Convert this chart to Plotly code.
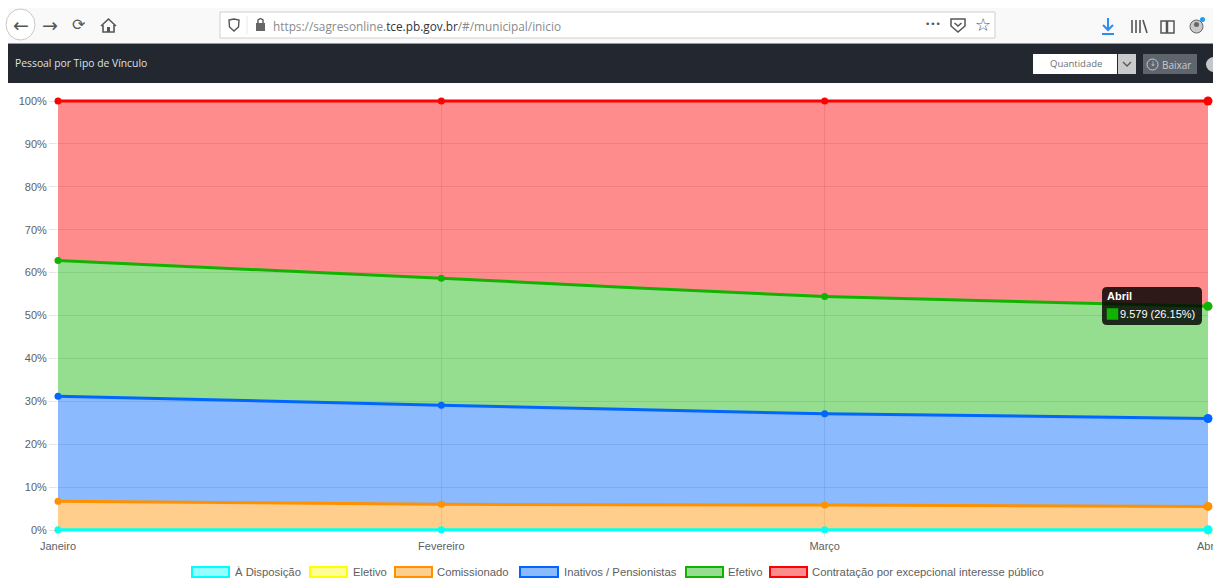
import plotly.graph_objects as go

months = ["Janeiro", "Fevereiro", "Março", "Abril"]
# share of each bond type, in percent
eletivo = [0.0, 0.0, 0.0, 0.0]
a_disposicao = [0.05, 0.05, 0.05, 0.05]
comissionado = [6.65, 5.95, 5.75, 5.45]
inativos = [24.5, 23.1, 21.3, 20.5]
efetivo = [31.6, 29.6, 27.3, 26.15]
contratacao = [37.2, 41.3, 45.6, 47.85]
y_ticks = list(range(0, 101, 10))
y_tick_labels = [f"{v}%" for v in y_ticks]
marker_sizes = [7, 7, 7, 9]

L, R, T, B = 58, 1208, 98, 533
W, H = 1213, 578
FONT = "Liberation Sans, Arial, sans-serif"
INK = "#606060"


def px(x):
    return (x - L) / (R - L)


def py(y):
    return (B - y) / (B - T)


shapes, annotations = [], []


def rect(x0, y0, x1, y1, fill, line=None, lw=1, layer="above"):
    shapes.append(dict(type="rect", xref="paper", yref="paper", layer=layer,
                       x0=px(x0), x1=px(x1), y0=py(y0), y1=py(y1), fillcolor=fill,
                       line=dict(color=line or fill, width=lw if line else 0)))


def seg(x0, y0, x1, y1, color, lw=1.5):
    shapes.append(dict(type="line", xref="paper", yref="paper", x0=px(x0), x1=px(x1),
                       y0=py(y0), y1=py(y1), line=dict(color=color, width=lw)))


def circle(x0, y0, x1, y1, fill, line=None, lw=1):
    shapes.append(dict(type="circle", xref="paper", yref="paper", x0=px(x0), x1=px(x1),
                       y0=py(y0), y1=py(y1), fillcolor=fill,
                       line=dict(color=line or fill, width=lw if line else 0)))


def poly(points, fill="rgba(0,0,0,0)", line="#555555", lw=1.4, close=True):
    path = "M " + " L ".join(f"{px(a):.5f},{py(b):.5f}" for a, b in points) + (" Z" if close else "")
    shapes.append(dict(type="path", xref="paper", yref="paper", path=path, fillcolor=fill,
                       line=dict(color=line, width=lw)))


def label(x, y, text, size=11, color=INK, anchor="left", family=FONT):
    annotations.append(dict(xref="paper", yref="paper", x=px(x), y=py(y), text=text,
                            xanchor=anchor, yanchor="middle", showarrow=False,
                            borderpad=0, borderwidth=0, font=dict(size=size, color=color, family=family)))


# browser toolbar
rect(8, 8, 1213, 43, "#f9f9fa")
seg(8, 43.5, 1213, 43.5, "#9a9a9a", 1)
circle(6, 9, 35, 40, "#ffffff", "#c8c8c8", 1)
label(21, 25, "←", 19, "#555555", "center", "DejaVu Sans")
label(50, 25, "→", 19, "#555555", "center", "DejaVu Sans")
label(79, 25, "⟳", 16, "#555555", "center", "DejaVu Sans")
poly([(101, 26), (108.5, 19), (116, 26)], lw=1.6, close=False)
poly([(103, 25), (103, 32), (114, 32), (114, 25)], lw=1.6, close=False)
rect(107, 27, 110, 32, "#555555")
rect(220, 12, 995, 38, "#ffffff", "#d0d0d0", 1)
poly([(229, 20), (234, 19), (239, 20), (238.5, 27), (234, 31), (229.5, 27)], lw=1.4)
seg(247, 16, 247, 34, "#e8e8e8", 1)
rect(256, 23, 265, 31, "#666666")
poly([(258, 23), (258, 20), (260.5, 18.5), (263, 20), (263, 23)], lw=1.4, close=False)
label(273, 26, '<span style="color:#8a8a8a">https://sagresonline.</span>'
      '<span style="color:#30343c">tce.pb.gov.br</span>'
      '<span style="color:#8a8a8a">/#/municipal/inicio</span>', 11.8, "#8a8a8a", family="Open Sans, sans-serif")
label(933, 24, "•••", 9, "#555555", "center", "DejaVu Sans")
poly([(951, 19), (965, 19), (965, 26), (958, 32), (951, 26)], lw=1.5)
poly([(954.5, 23), (958, 26), (961.5, 23)], lw=1.5, close=False)
label(983, 25, "☆", 18, "#555555", "center", "DejaVu Sans")
seg(1108, 18, 1108, 30, "#2f8cf0", 2)
poly([(1103, 25), (1108, 30), (1113, 25)], line="#2f8cf0", lw=2, close=False)
seg(1102, 34, 1114, 34, "#2f8cf0", 2)
seg(1132, 20, 1132, 33, "#555555", 1.6)
seg(1136, 20, 1136, 33, "#555555", 1.6)
seg(1140, 20, 1140, 33, "#555555", 1.6)
seg(1143, 20, 1147, 33, "#555555", 1.6)
rect(1161, 21, 1174, 33, "rgba(0,0,0,0)", "#555555", 1.5)
seg(1167, 21, 1167, 33, "#555555", 2.5)
circle(1190, 20, 1203, 33, "#c9c9c9", "#666666", 1)
circle(1194, 22, 1199, 27, "#666666")
circle(1200, 17, 1205, 22, "#1e9df0")

# dark page header
rect(8, 44, 1213, 83, "#23272f")
label(15, 62.5, "Pessoal por Tipo de Vínculo", 10.35, "#dfe1e4", family="Open Sans, sans-serif")
rect(1033, 54, 1117, 74, "#ffffff")
label(1076, 64, "Quantidade", 9.5, "#6c7075", "center", "Open Sans, sans-serif")
rect(1118, 54, 1136, 74, "#c8cacc")
poly([(1123, 62), (1127, 66), (1131, 62)], line="#555555", lw=1.3, close=False)
rect(1143, 54, 1197, 74, "#5f656d")
circle(1147, 59, 1158, 70, "rgba(0,0,0,0)", "#c8cbcf", 1)
label(1152.5, 64, "↓", 7, "#c8cbcf", "center", "DejaVu Sans")
label(1161.5, 64.5, "Baixar", 10, "#c8cbcf", family="Open Sans, sans-serif")
circle(1206, 57, 1222, 72, "#c4c6c9")

# tooltip on the Efetivo series
tx0, ty0, tx1, ty1, r = 1102, 287, 1202, 325, 5
path = (f"M {px(tx0 + r)},{py(ty0)} L {px(tx1 - r)},{py(ty0)} Q {px(tx1)},{py(ty0)} {px(tx1)},{py(ty0 + r)} "
        f"L {px(tx1)},{py(ty1 - r)} Q {px(tx1)},{py(ty1)} {px(tx1 - r)},{py(ty1)} "
        f"L {px(tx0 + r)},{py(ty1)} Q {px(tx0)},{py(ty1)} {px(tx0)},{py(ty1 - r)} "
        f"L {px(tx0)},{py(ty0 + r)} Q {px(tx0)},{py(ty0)} {px(tx0 + r)},{py(ty0)} Z")
shapes.append(dict(type="path", xref="paper", yref="paper", path=path,
                   fillcolor="rgba(0,0,0,0.82)", line=dict(width=0)))
label(1107, 296, "<b>Abril</b>", 11, "#ffffff")
rect(1107.5, 309, 1117.5, 319, "#11b300", "#11b300", 1.5)
label(1119.5, 313.5, "9.579 (26.15%)", 11, "#ffffff")

# legend
legend_items = [
    ("À Disposição", 192, 229, 235, "#00ffff", "rgba(0,255,255,0.42)"),
    ("Eletivo", 310, 347, 353, "#ffff00", "rgba(255,255,0,0.42)"),
    ("Comissionado", 395, 432, 437, "#ff9000", "rgba(255,144,0,0.45)"),
    ("Inativos / Pensionistas", 520, 558, 564, "#0066ff", "rgba(0,102,255,0.45)"),
    ("Efetivo", 686, 723, 728, "#11b300", "rgba(17,179,0,0.44)"),
    ("Contratação por excepcional interesse público", 770, 807, 812, "#ff0000", "rgba(255,0,0,0.45)"),
]
for name, b0, b1, t, edge, fill in legend_items:
    rect(b0, 567, b1, 577, fill, edge, 2)
    label(t, 571.5, name, 11.3)

series = [
    ("Eletivo", eletivo, "#ffff00", "rgba(255,255,0,0.42)"),
    ("À Disposição", a_disposicao, "#00ffff", "rgba(0,255,255,0.42)"),
    ("Comissionado", comissionado, "#ff9000", "rgba(255,144,0,0.45)"),
    ("Inativos / Pensionistas", inativos, "#0066ff", "rgba(0,102,255,0.45)"),
    ("Efetivo", efetivo, "#11b300", "rgba(17,179,0,0.44)"),
    ("Contratação por excepcional interesse público", contratacao, "#ff0000", "rgba(255,0,0,0.45)"),
]

fig = go.Figure()
for name, values, edge, fill in series:
    fig.add_trace(go.Scatter(
        x=months, y=values, name=name, mode="none", stackgroup="fills",
        line=dict(shape="spline", smoothing=0.5), fillcolor=fill, showlegend=False,
    ))
for name, values, edge, fill in series:
    fig.add_trace(go.Scatter(
        x=months, y=values, name=name, mode="lines+markers", stackgroup="edges",
        line=dict(color=edge, width=3, shape="spline", smoothing=0.5),
        marker=dict(color=edge, size=marker_sizes, opacity=1, line=dict(width=0)),
        fillcolor="rgba(0,0,0,0)", cliponaxis=False, showlegend=False,
    ))

fig.update_layout(
    template="none", width=W, height=H, autosize=False, showlegend=False,
    margin=dict(l=L, r=W - R, t=T, b=H - B, pad=0),
    paper_bgcolor="#ffffff", plot_bgcolor="#ffffff",
    font=dict(family=FONT, size=11, color=INK),
    shapes=shapes, annotations=annotations,
)
fig.update_xaxes(type="category", range=[0, 3], automargin=False, showgrid=True,
                 gridcolor="rgba(0,0,0,0.1)", ticks="outside", ticklen=3,
                 tickcolor="rgba(0,0,0,0.1)", showline=False, zeroline=False,
                 tickfont=dict(size=11, color=INK, family=FONT), tickangle=0)
fig.update_yaxes(range=[-0.7, 100.7], automargin=False, tickmode="array", tickvals=y_ticks,
                 ticktext=y_tick_labels, showgrid=True, gridcolor="rgba(0,0,0,0.1)",
                 ticks="outside", ticklen=8, tickcolor="rgba(0,0,0,0.1)", showline=False,
                 zeroline=False, tickfont=dict(size=11, color=INK, family=FONT))

fig.write_html("out.html", config=dict(displayModeBar=False),
               post_script="document.body.style.margin='0';document.documentElement.style.overflow='hidden';")
